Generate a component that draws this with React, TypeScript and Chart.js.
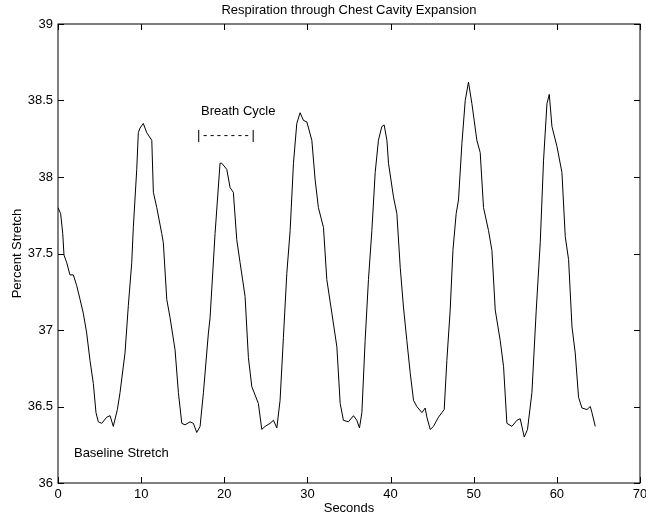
import React, { useEffect, useRef } from "react";
import { Chart, registerables } from "chart.js";

Chart.register(...registerables);

const chartTitle = "Respiration through Chest Cavity Expansion";
const xAxisTitle = "Seconds";
const yAxisTitle = "Percent Stretch";
const xTicks = [0, 10, 20, 30, 40, 50, 60, 70];
const yTicks = [36, 36.5, 37, 37.5, 38, 38.5, 39];

const seconds = [
  0.0, 0.32, 0.57, 0.72, 1.05, 1.44, 1.84, 2.25, 2.65, 3.04, 3.45, 3.85, 4.25, 4.57, 4.85, 5.26, 5.86, 6.26, 6.65, 7.14,
  7.46, 8.06, 8.46, 8.87, 9.06, 9.47, 9.66, 9.87, 10.26, 10.67, 11.28, 11.47, 11.88, 12.48, 12.67, 13.08, 13.48, 14.08,
  14.48, 14.89, 15.28, 15.88, 16.28, 16.69, 17.09, 17.49, 18.09, 18.29, 18.89, 19.49, 19.7, 20.3, 20.7, 21.09, 21.5,
  21.9, 22.5, 22.9, 23.31, 24.1, 24.51, 24.91, 25.51, 25.91, 26.32, 26.71, 27.11, 27.52, 27.92, 28.32, 28.72, 29.12,
  29.52, 29.93, 30.53, 30.93, 31.32, 31.93, 32.33, 32.94, 33.54, 33.94, 34.33, 34.93, 35.54, 35.94, 36.26, 36.55, 36.94,
  37.34, 37.75, 38.15, 38.54, 38.95, 39.23, 39.56, 39.75, 40.35, 40.76, 41.16, 41.55, 41.96, 42.36, 42.76, 43.16, 43.77,
  44.16, 44.37, 44.77, 45.16, 45.76, 46.17, 46.45, 46.77, 47.17, 47.5, 47.89, 48.17, 48.58, 48.98, 49.37, 49.78, 50.38,
  50.78, 51.18, 51.78, 52.19, 52.59, 53.19, 53.59, 53.99, 54.59, 55.2, 55.59, 56.08, 56.47, 57.0, 57.52, 58.0, 58.4,
  58.81, 59.09, 59.41, 60.01, 60.61, 61.01, 61.41, 61.82, 62.21, 62.61, 63.02, 63.62, 64.02, 64.22, 64.62,
];

const stretch = [
  37.8, 37.76, 37.63, 37.49, 37.44, 37.36, 37.36, 37.29, 37.2, 37.11, 36.98, 36.8, 36.65, 36.46, 36.4, 36.39, 36.43,
  36.44, 36.37, 36.48, 36.59, 36.85, 37.16, 37.44, 37.67, 38.05, 38.29, 38.32, 38.35, 38.29, 38.24, 37.9, 37.8, 37.63,
  37.57, 37.2, 37.08, 36.87, 36.59, 36.39, 36.38, 36.4, 36.39, 36.33, 36.37, 36.59, 36.98, 37.08, 37.63, 38.09, 38.09,
  38.05, 37.93, 37.9, 37.59, 37.44, 37.22, 36.82, 36.63, 36.52, 36.35, 36.37, 36.39, 36.41, 36.36, 36.54, 36.95, 37.37,
  37.65, 38.09, 38.35, 38.42, 38.37, 38.36, 38.24, 37.98, 37.8, 37.67, 37.33, 37.11, 36.89, 36.52, 36.41, 36.4, 36.44,
  36.41, 36.36, 36.46, 36.93, 37.33, 37.65, 38.03, 38.24, 38.33, 38.34, 38.24, 38.09, 37.87, 37.76, 37.41, 37.15, 36.93,
  36.72, 36.54, 36.5, 36.46, 36.49, 36.43, 36.35, 36.37, 36.43, 36.46, 36.48, 36.8, 37.13, 37.52, 37.76, 37.85, 38.22,
  38.5, 38.62, 38.48, 38.24, 38.16, 37.8, 37.65, 37.52, 37.13, 36.93, 36.76, 36.39, 36.37, 36.41, 36.42, 36.3, 36.35,
  36.59, 37.13, 37.57, 38.11, 38.48, 38.54, 38.33, 38.2, 38.03, 37.61, 37.46, 37.02, 36.85, 36.56, 36.49, 36.48, 36.5,
  36.46, 36.37,
];

const noteTexts = ["Breath Cycle", "|-------|", "Baseline Stretch"];
const noteSeconds = [17.2, 16.72, 1.92];
const noteStretch = [38.405, 38.246, 36.17];

const FONT_FAMILY = "'Liberation Sans', Arial, Helvetica, sans-serif";
const FONT_SIZE = 13;
const TICK_LEN = 6;

const framePlugin = {
  id: "matlabFrame",
  afterDatasetsDraw(chart: any) {
    const { ctx, chartArea } = chart;
    const { left, right, top, bottom } = chartArea;
    const xs = chart.scales.x;
    const ys = chart.scales.y;
    ctx.save();
    ctx.strokeStyle = "#000";
    ctx.lineWidth = 1;
    ctx.strokeRect(left, top, right - left, bottom - top);
    ctx.beginPath();
    for (const v of xTicks) {
      const px = Math.round(xs.getPixelForValue(v)) + 0.5;
      ctx.moveTo(px, bottom);
      ctx.lineTo(px, bottom - TICK_LEN);
      ctx.moveTo(px, top);
      ctx.lineTo(px, top + TICK_LEN);
    }
    for (const v of yTicks) {
      const py = Math.round(ys.getPixelForValue(v)) + 0.5;
      ctx.moveTo(left, py);
      ctx.lineTo(left + TICK_LEN, py);
      ctx.moveTo(right, py);
      ctx.lineTo(right - TICK_LEN, py);
    }
    ctx.stroke();

    ctx.fillStyle = "#000";
    ctx.font = `${FONT_SIZE}px ${FONT_FAMILY}`;
    ctx.textAlign = "center";
    ctx.textBaseline = "alphabetic";
    ctx.fillText(chartTitle, (left + right) / 2, 14);

    ctx.textAlign = "left";
    for (let i = 0; i < noteTexts.length; i++) {
      const px = xs.getPixelForValue(noteSeconds[i]);
      const py = ys.getPixelForValue(noteStretch[i]);
      if (noteTexts[i].startsWith("|")) {
        try {
          (ctx as any).letterSpacing = "2.6px";
        } catch (e) {}
        ctx.fillText(noteTexts[i], px, py);
        try {
          (ctx as any).letterSpacing = "0px";
        } catch (e) {}
      } else {
        ctx.fillText(noteTexts[i], px, py);
      }
    }
    ctx.restore();
  },
};

export default function App() {
  const canvasRef = useRef<HTMLCanvasElement | null>(null);

  useEffect(() => {
    const canvas = canvasRef.current;
    if (!canvas) return;
    const font = { family: FONT_FAMILY, size: FONT_SIZE };
    const points = seconds.map((s, i) => ({ x: s, y: stretch[i] }));
    const chart = new Chart(canvas, {
      type: "line",
      data: {
        datasets: [
          {
            data: points,
            borderColor: "#000",
            borderWidth: 1,
            pointRadius: 0,
            tension: 0,
            fill: false,
          },
        ],
      },
      options: {
        responsive: false,
        animation: false,
        devicePixelRatio: 1,
        layout: { padding: { left: 0, right: 6, top: 24, bottom: 0 } },
        plugins: {
          legend: { display: false },
          title: { display: false },
          tooltip: { enabled: false },
        },
        scales: {
          x: {
            type: "linear",
            min: 0,
            max: 70,
            afterBuildTicks: (scale: any) => {
              scale.ticks = xTicks.map((v) => ({ value: v }));
            },
            ticks: {
              color: "#000",
              font,
              padding: 4,
              maxRotation: 0,
              autoSkip: false,
              callback: (v: any) => String(Number(v)),
            },
            grid: { display: false, drawTicks: false },
            border: { display: false },
            title: {
              display: true,
              text: xAxisTitle,
              color: "#000",
              font,
              padding: { top: 0, bottom: 2 },
            },
            afterFit: (scale: any) => {
              scale.height = 35;
              scale.paddingLeft = 0;
              scale.paddingRight = 0;
            },
          },
          y: {
            type: "linear",
            min: 36,
            max: 39,
            afterBuildTicks: (scale: any) => {
              scale.ticks = yTicks.map((v) => ({ value: v }));
            },
            ticks: {
              color: "#000",
              font,
              padding: 5,
              autoSkip: false,
              callback: (v: any) => String(Number(v)),
            },
            grid: { display: false, drawTicks: false },
            border: { display: false },
            title: {
              display: true,
              text: yAxisTitle,
              color: "#000",
              font,
              padding: { top: 10, bottom: 0 },
            },
            afterFit: (scale: any) => {
              scale.width = 58;
              scale.paddingTop = 0;
              scale.paddingBottom = 0;
            },
          },
        },
      },
      plugins: [framePlugin],
    });
    return () => chart.destroy();
  }, []);

  return (
    <div style={{ position: "absolute", left: 0, top: 0, width: 646, height: 518, background: "#fff" }}>
      <canvas ref={canvasRef} width={646} height={518} style={{ display: "block" }} />
    </div>
  );
}
